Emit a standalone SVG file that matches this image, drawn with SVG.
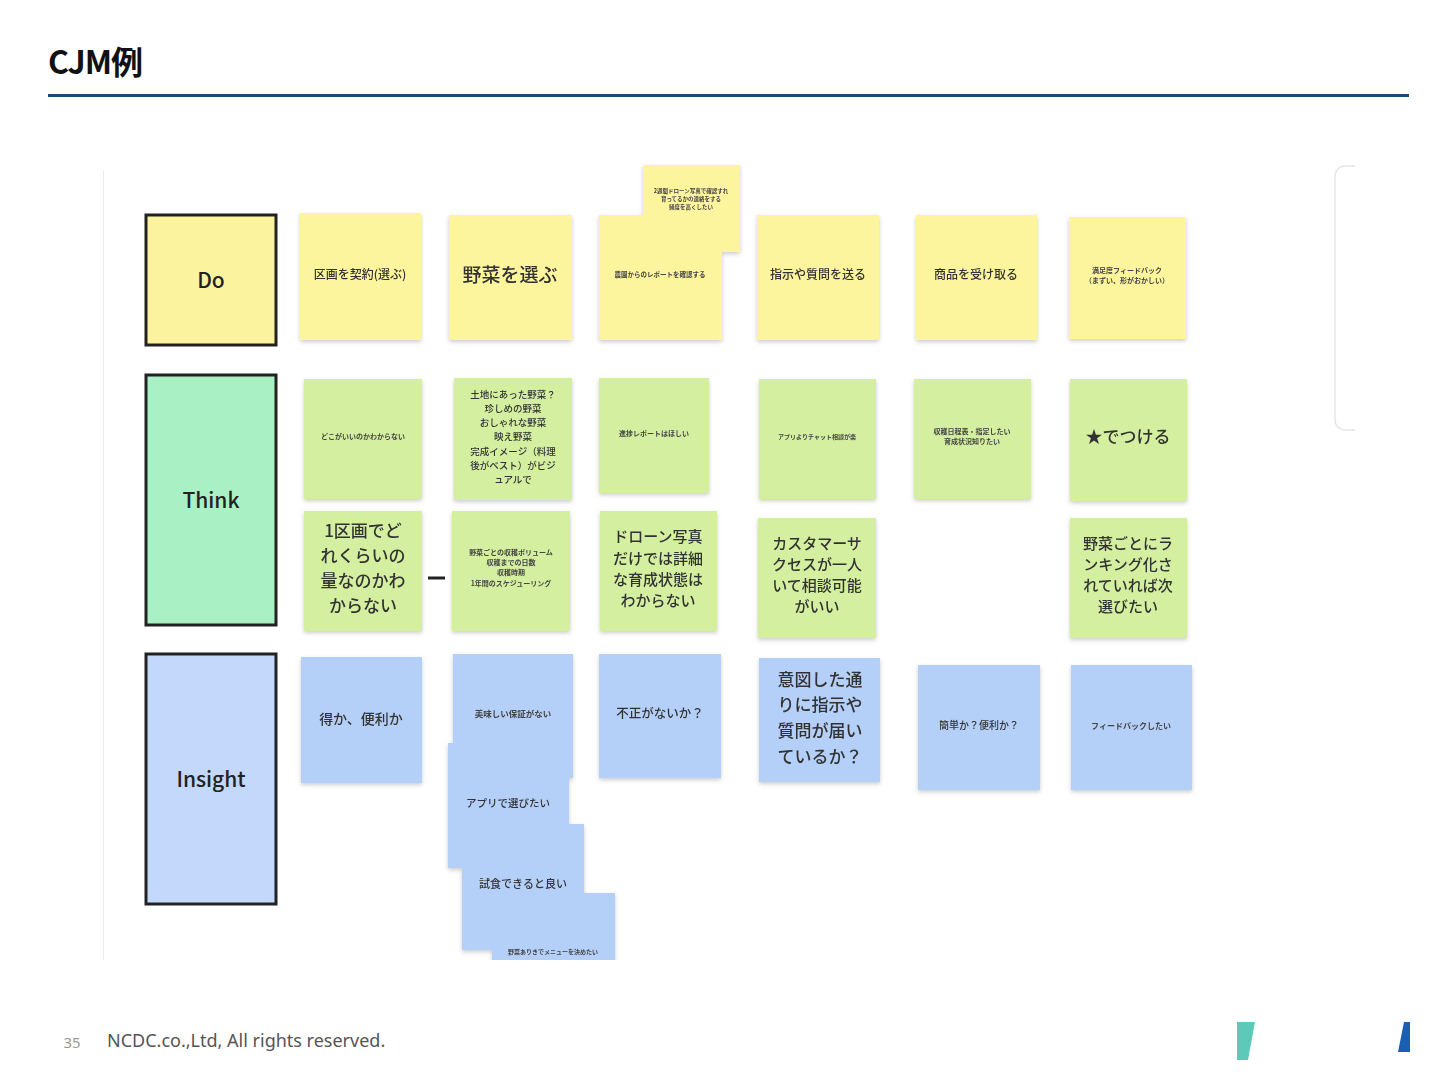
<svg xmlns="http://www.w3.org/2000/svg" width="1440" height="1080" viewBox="0 0 1440 1080">
<style>
text{font-family:"Noto Sans CJK JP","Noto Sans",sans-serif;fill:#333;text-anchor:middle;font-weight:500}
.y{fill:#fdf49e}
.g{fill:#d3ef9f}
.b{fill:#b4cff8}
.hd{stroke:#222;stroke-width:3}
.s{font-size:7px;font-weight:bold;fill:#444}
.m{font-size:12px}
.l{font-size:17px}
.xl{font-size:19px}
.h{font-size:21px;fill:#222}
</style>
<defs>
<filter id="sh" x="-10%" y="-10%" width="120%" height="125%">
<feDropShadow dx="0" dy="2" stdDeviation="2" flood-color="#000" flood-opacity="0.2"/>
</filter>
</defs>
<rect width="1440" height="1080" fill="#fff"/>
<text x="48" y="74" style="font-size:32px;font-weight:bold;fill:#111;text-anchor:start;letter-spacing:-1px">CJM例</text>
<rect x="48" y="94" width="1361" height="3" fill="#1a4a78"/>
<line x1="103.5" y1="170" x2="103.5" y2="960" stroke="#eee" stroke-width="1"/>
<path d="M1355 166 h-10 a10 10 0 0 0 -10 10 v244 a10 10 0 0 0 10 10 h10" fill="none" stroke="#e6e6e6" stroke-width="1.5"/>

<g id="hdr-do"><rect class="hd" x="146" y="215" width="130" height="130" fill="#fcf39f"/><text class="h" x="211" y="288">Do</text></g>
<g id="hdr-think"><rect class="hd" x="146" y="375" width="130" height="250" fill="#a9f0c5"/><text class="h" x="211" y="508">Think</text></g>
<g id="hdr-insight"><rect class="hd" x="146" y="654" width="130" height="250" fill="#c3d8fb"/><text class="h" x="211" y="787">Insight</text></g>

<g filter="url(#sh)">
<g id="do1"><rect class="y" x="300" y="213" width="121" height="127"/><text class="m" x="360" y="279">区画を契約(選ぶ)</text></g>
<g id="do2"><rect class="y" x="449" y="215" width="123" height="125"/><text class="xl" x="510" y="282">野菜を選ぶ</text></g>
<g id="do3a"><rect class="y" x="643" y="165" width="97" height="87"/><text class="s" style="font-size:5.5px" x="691" y="193">2週間ドローン写真で確認すれ</text><text class="s" style="font-size:5.5px" x="691" y="201">育ってるかの連絡をする</text><text class="s" style="font-size:5.5px" x="691" y="209">頻度を高くしたい</text></g>
<g id="do3"><rect class="y" x="599" y="215" width="123" height="125"/><text class="s" style="font-size:6.5px" x="660" y="277">農園からのレポートを確認する</text></g>
<g id="do4"><rect class="y" x="757" y="215" width="122" height="125"/><text class="m" x="818" y="279">指示や質問を送る</text></g>
<g id="do5"><rect class="y" x="916" y="215" width="121" height="125"/><text class="m" x="976" y="279">商品を受け取る</text></g>
<g id="do6"><rect class="y" x="1069" y="217" width="117" height="122"/><text class="s" x="1127" y="273">満足度フィードバック</text><text class="s" x="1127" y="283">（まずい、形がおかしい）</text></g>

<g id="th1"><rect class="g" x="304" y="379" width="118" height="120"/><text class="s" x="363" y="439">どこがいいのかわからない</text></g>
<g id="th2"><rect class="g" x="454" y="378" width="118" height="122"/>
<text style="font-size:9.5px" x="513" y="398">土地にあった野菜？</text><text style="font-size:9.5px" x="513" y="412">珍しめの野菜</text><text style="font-size:9.5px" x="513" y="426">おしゃれな野菜</text><text style="font-size:9.5px" x="513" y="440">映え野菜</text><text style="font-size:9.5px" x="513" y="455">完成イメージ（料理</text><text style="font-size:9.5px" x="513" y="469">後がベスト）がビジ</text><text style="font-size:9.5px" x="513" y="483">ュアルで</text></g>
<g id="th3"><rect class="g" x="599" y="378" width="110" height="115"/><text class="s" x="654" y="436">進捗レポートはほしい</text></g>
<g id="th4"><rect class="g" x="759" y="379" width="117" height="120"/><text class="s" style="font-size:6px" x="817" y="439">アプリよりチャット相談が楽</text></g>
<g id="th5"><rect class="g" x="914" y="379" width="117" height="120"/><text class="s" x="972" y="434">収穫日程表・指定したい</text><text class="s" x="972" y="444">育成状況知りたい</text></g>
<g id="th6"><rect class="g" x="1070" y="379" width="117" height="122"/><text class="l" x="1128" y="443">★でつける</text></g>

<g id="th7"><rect class="g" x="304" y="511" width="118" height="120"/><text class="l" x="363" y="537">1区画でど</text><text class="l" x="363" y="562">れくらいの</text><text class="l" x="363" y="587">量なのかわ</text><text class="l" x="363" y="612">からない</text></g>
<g id="th8"><rect class="g" x="452" y="511" width="118" height="120"/><text class="s" x="511" y="555">野菜ごとの収穫ボリューム</text><text class="s" x="511" y="565">収穫までの日数</text><text class="s" x="511" y="575">収穫時期</text><text class="s" x="511" y="586">1年間のスケジューリング</text></g>
<g id="th9"><rect class="g" x="600" y="511" width="117" height="120"/><text style="font-size:15px" x="658" y="542">ドローン写真</text><text style="font-size:15px" x="658" y="564">だけでは詳細</text><text style="font-size:15px" x="658" y="585">な育成状態は</text><text style="font-size:15px" x="658" y="606">わからない</text></g>
<g id="th10"><rect class="g" x="758" y="518" width="118" height="120"/><text style="font-size:15px" x="817" y="549">カスタマーサ</text><text style="font-size:15px" x="817" y="570">クセスが一人</text><text style="font-size:15px" x="817" y="591">いて相談可能</text><text style="font-size:15px" x="817" y="612">がいい</text></g>
<g id="th11"><rect class="g" x="1070" y="518" width="117" height="120"/><text style="font-size:15px" x="1128" y="549">野菜ごとにラ</text><text style="font-size:15px" x="1128" y="570">ンキング化さ</text><text style="font-size:15px" x="1128" y="591">れていれば次</text><text style="font-size:15px" x="1128" y="612">選びたい</text></g>

<g id="in1"><rect class="b" x="301" y="657" width="121" height="126"/><text style="font-size:14px" x="361" y="724">得か、便利か</text></g>
<g id="in2"><rect class="b" x="453" y="654" width="120" height="124"/><text class="s" style="font-size:8.5px" x="513" y="717">美味しい保証がない</text></g>
<g id="in3"><rect class="b" x="448" y="743" width="121" height="125"/><text style="font-size:10.5px" x="508" y="807">アプリで選びたい</text></g>
<g id="in4"><rect class="b" x="462" y="824" width="122" height="126"/><text style="font-size:11px" x="523" y="888">試食できると良い</text></g>
<g id="in5"><rect class="b" x="492" y="893" width="123" height="67"/><text class="s" style="font-size:6px" x="553" y="954">野菜ありきでメニューを決めたい</text></g>
<g id="in6"><rect class="b" x="599" y="654" width="122" height="124"/><text style="font-size:12.5px" x="660" y="718">不正がないか？</text></g>
<g id="in7"><rect class="b" x="759" y="658" width="121" height="124"/><text style="font-size:17px" x="820" y="686">意図した通</text><text style="font-size:17px" x="820" y="711">りに指示や</text><text style="font-size:17px" x="820" y="737">質問が届い</text><text style="font-size:17px" x="820" y="763">ているか？</text></g>
<g id="in8"><rect class="b" x="918" y="665" width="122" height="125"/><text style="font-size:10px" x="979" y="729">簡単か？便利か？</text></g>
<g id="in9"><rect class="b" x="1071" y="665" width="121" height="125"/><text class="s" style="font-size:8px" x="1131" y="729">フィードバックしたい</text></g>
</g>
<rect x="100" y="960" width="600" height="8" fill="#fff"/>
<g id="connectors"><line x1="428" y1="578" x2="445" y2="578" stroke="#222" stroke-width="3"/></g>

<text x="72" y="1048" style="font-size:15px;fill:#999;font-family:'Noto Sans',sans-serif;font-weight:normal">35</text>
<text x="107" y="1047" style="font-size:18px;fill:#555;text-anchor:start;font-family:'Noto Sans',sans-serif;font-weight:normal">NCDC.co.,Ltd, All rights reserved.</text>
<polygon points="1237,1022 1255,1022 1248,1060 1237,1060" fill="#5fc9b9"/>
<polygon points="1404,1022 1410,1022 1410,1052 1398,1052" fill="#1a5fb4"/>
</svg>
